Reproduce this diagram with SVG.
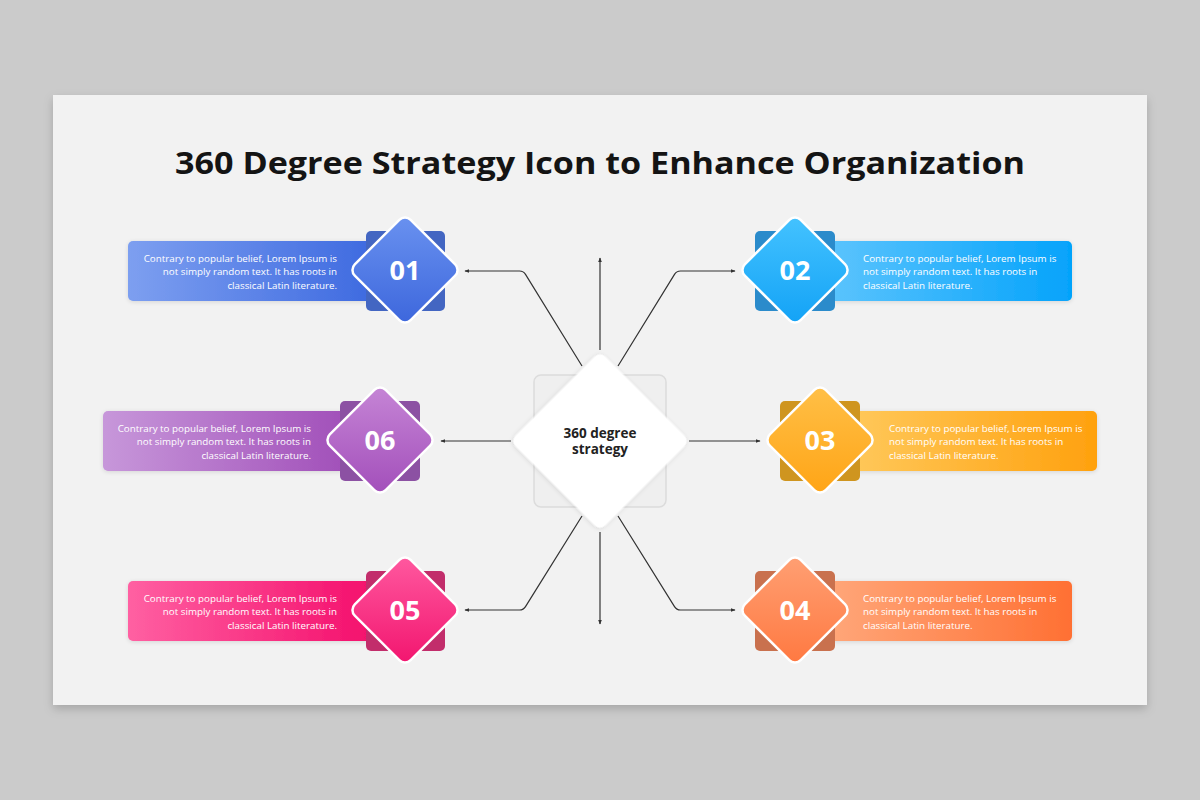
<svg xmlns="http://www.w3.org/2000/svg" width="1200" height="800" viewBox="0 0 1200 800">
<defs>
  <filter id="cardShadow" x="-5%" y="-5%" width="110%" height="115%">
    <feDropShadow dx="0" dy="4" stdDeviation="5" flood-color="#000" flood-opacity="0.18"/>
  </filter>
  <filter id="soft" x="-20%" y="-20%" width="140%" height="140%">
    <feDropShadow dx="0" dy="1" stdDeviation="2" flood-color="#000" flood-opacity="0.12"/>
  </filter>
  <marker id="arr" viewBox="0 0 8 8" refX="7" refY="4" markerWidth="4" markerHeight="4" orient="auto" markerUnits="strokeWidth">
    <path d="M0,0.8 L8,4 L0,7.2 Z" fill="#333"/>
  </marker>
  <linearGradient id="r1" x1="0" y1="0" x2="1" y2="0"><stop offset="0" stop-color="#7d9ff0"/><stop offset="1" stop-color="#3e6ae0"/></linearGradient>
  <linearGradient id="d1" x1="0" y1="0" x2="1" y2="1"><stop offset="0" stop-color="#6a92f0"/><stop offset="1" stop-color="#3c66dc"/></linearGradient>
  <linearGradient id="r2" x1="0" y1="0" x2="1" y2="0"><stop offset="0" stop-color="#5cc4fd"/><stop offset="1" stop-color="#05a3fb"/></linearGradient>
  <linearGradient id="d2" x1="0" y1="0" x2="1" y2="1"><stop offset="0" stop-color="#45c3ff"/><stop offset="1" stop-color="#12a2f6"/></linearGradient>
  <linearGradient id="r3" x1="0" y1="0" x2="1" y2="0"><stop offset="0" stop-color="#ffc85a"/><stop offset="1" stop-color="#ffa10e"/></linearGradient>
  <linearGradient id="d3" x1="0" y1="0" x2="1" y2="1"><stop offset="0" stop-color="#ffc048"/><stop offset="1" stop-color="#ffa415"/></linearGradient>
  <linearGradient id="r4" x1="0" y1="0" x2="1" y2="0"><stop offset="0" stop-color="#ffa77a"/><stop offset="1" stop-color="#ff7033"/></linearGradient>
  <linearGradient id="d4" x1="0" y1="0" x2="1" y2="1"><stop offset="0" stop-color="#ffa074"/><stop offset="1" stop-color="#ff7840"/></linearGradient>
  <linearGradient id="r5" x1="0" y1="0" x2="1" y2="0"><stop offset="0" stop-color="#ff60a2"/><stop offset="1" stop-color="#f40f6c"/></linearGradient>
  <linearGradient id="d5" x1="0" y1="0" x2="1" y2="1"><stop offset="0" stop-color="#ff5aa0"/><stop offset="1" stop-color="#f2146e"/></linearGradient>
  <linearGradient id="r6" x1="0" y1="0" x2="1" y2="0"><stop offset="0" stop-color="#c797da"/><stop offset="1" stop-color="#a14fb9"/></linearGradient>
  <linearGradient id="d6" x1="0" y1="0" x2="1" y2="1"><stop offset="0" stop-color="#c686d6"/><stop offset="1" stop-color="#a24eba"/></linearGradient>
</defs>
<style>
  .title { font-family: "Open Sans", "Liberation Sans", sans-serif; font-weight: 700; font-size: 30px; fill: #141414; }
  .body { font-family: "Open Sans", "Liberation Sans", sans-serif; font-size: 9.8px; fill: #ffffff; }
  .num { font-family: "Open Sans", "Liberation Sans", sans-serif; font-weight: 700; font-size: 27px; fill: #ffffff; }
  .ctr { font-family: "Open Sans", "Liberation Sans", sans-serif; font-weight: 700; font-size: 13.5px; fill: #222; }
  .conn { fill: none; stroke: #333; stroke-width: 1.2; }
  .dia { stroke: #ffffff; stroke-width: 2.5; }
  .card-rect { filter: url(#soft); }
</style>

<rect x="0" y="0" width="1200" height="800" fill="#cbcbcb"/>
<rect x="53" y="95" width="1094" height="610" fill="#f2f2f2" filter="url(#cardShadow)"/>

<text class="title" x="600" y="174" text-anchor="middle" textLength="850" lengthAdjust="spacingAndGlyphs">360 Degree Strategy Icon to Enhance Organization</text>

<g id="connectors">
  <path class="conn" d="M600,350 L600,258" marker-end="url(#arr)"/>
  <path class="conn" d="M600,532 L600,624" marker-end="url(#arr)"/>
  <path class="conn" d="M511,441 L441,441" marker-end="url(#arr)"/>
  <path class="conn" d="M689,441 L760,441" marker-end="url(#arr)"/>
  <path class="conn" d="M582,366 L525.5,274.4 Q523.5,271 519.5,271 L465,271" marker-end="url(#arr)"/>
  <path class="conn" d="M618,366 L674.5,274.4 Q676.5,271 680.5,271 L735,271" marker-end="url(#arr)"/>
  <path class="conn" d="M582,516 L525.5,606.6 Q523.5,610 519.5,610 L465,610" marker-end="url(#arr)"/>
  <path class="conn" d="M618,516 L674.5,606.6 Q676.5,610 680.5,610 L735,610" marker-end="url(#arr)"/>
</g>

<g id="center">
  <rect x="534" y="375" width="132" height="132" rx="7" fill="#efefef" stroke="#dcdcdc" stroke-width="1.5"/>
  <rect x="536.5" y="377.5" width="127" height="127" rx="8" fill="#ffffff" transform="rotate(45 600 441)" filter="url(#soft)"/>
  <text class="ctr" x="600" y="438" text-anchor="middle">360 degree</text>
  <text class="ctr" x="600" y="454" text-anchor="middle">strategy</text>
</g>

<g id="node-01">
  <rect class="card-rect" x="128" y="241" width="245" height="60" rx="5" fill="url(#r1)"/>
  <rect x="366" y="231" width="79" height="80" rx="5" fill="#4366c2"/>
  <rect class="dia" x="365.5" y="230.5" width="79" height="79" rx="8" fill="url(#d1)" transform="rotate(45 405 270)"/>
  <text class="num" x="405" y="280" text-anchor="middle">01</text>
  <text class="body" text-anchor="end"><tspan x="337" y="262">Contrary to popular belief, Lorem Ipsum is</tspan><tspan x="337" y="275">not simply random text. It has roots in</tspan><tspan x="337" y="289">classical Latin literature.</tspan></text>
</g>

<g id="node-02">
  <rect class="card-rect" x="827" y="241" width="245" height="60" rx="5" fill="url(#r2)"/>
  <rect x="755" y="231" width="80" height="80" rx="5" fill="#2b8bcb"/>
  <rect class="dia" x="755.5" y="230.5" width="79" height="79" rx="8" fill="url(#d2)" transform="rotate(45 795 270)"/>
  <text class="num" x="795" y="280" text-anchor="middle">02</text>
  <text class="body"><tspan x="863" y="262">Contrary to popular belief, Lorem Ipsum is</tspan><tspan x="863" y="275">not simply random text. It has roots in</tspan><tspan x="863" y="289">classical Latin literature.</tspan></text>
</g>

<g id="node-06">
  <rect class="card-rect" x="103" y="411" width="245" height="60" rx="5" fill="url(#r6)"/>
  <rect x="340" y="401" width="80" height="80" rx="5" fill="#8c51a3"/>
  <rect class="dia" x="340.5" y="400.5" width="79" height="79" rx="8" fill="url(#d6)" transform="rotate(45 380 440)"/>
  <text class="num" x="380" y="450" text-anchor="middle">06</text>
  <text class="body" text-anchor="end"><tspan x="311" y="432">Contrary to popular belief, Lorem Ipsum is</tspan><tspan x="311" y="445">not simply random text. It has roots in</tspan><tspan x="311" y="459">classical Latin literature.</tspan></text>
</g>

<g id="node-03">
  <rect class="card-rect" x="852" y="411" width="245" height="60" rx="5" fill="url(#r3)"/>
  <rect x="780" y="401" width="80" height="80" rx="5" fill="#cf951f"/>
  <rect class="dia" x="780.5" y="400.5" width="79" height="79" rx="8" fill="url(#d3)" transform="rotate(45 820 440)"/>
  <text class="num" x="820" y="450" text-anchor="middle">03</text>
  <text class="body"><tspan x="889" y="432">Contrary to popular belief, Lorem Ipsum is</tspan><tspan x="889" y="445">not simply random text. It has roots in</tspan><tspan x="889" y="459">classical Latin literature.</tspan></text>
</g>

<g id="node-05">
  <rect class="card-rect" x="128" y="581" width="245" height="60" rx="5" fill="url(#r5)"/>
  <rect x="366" y="571" width="79" height="80" rx="5" fill="#c22d6b"/>
  <rect class="dia" x="365.5" y="570.5" width="79" height="79" rx="8" fill="url(#d5)" transform="rotate(45 405 610)"/>
  <text class="num" x="405" y="620" text-anchor="middle">05</text>
  <text class="body" text-anchor="end"><tspan x="337" y="602">Contrary to popular belief, Lorem Ipsum is</tspan><tspan x="337" y="615">not simply random text. It has roots in</tspan><tspan x="337" y="629">classical Latin literature.</tspan></text>
</g>

<g id="node-04">
  <rect class="card-rect" x="827" y="581" width="245" height="60" rx="5" fill="url(#r4)"/>
  <rect x="755" y="571" width="80" height="80" rx="5" fill="#c9714e"/>
  <rect class="dia" x="755.5" y="570.5" width="79" height="79" rx="8" fill="url(#d4)" transform="rotate(45 795 610)"/>
  <text class="num" x="795" y="620" text-anchor="middle">04</text>
  <text class="body"><tspan x="863" y="602">Contrary to popular belief, Lorem Ipsum is</tspan><tspan x="863" y="615">not simply random text. It has roots in</tspan><tspan x="863" y="629">classical Latin literature.</tspan></text>
</g>
</svg>
